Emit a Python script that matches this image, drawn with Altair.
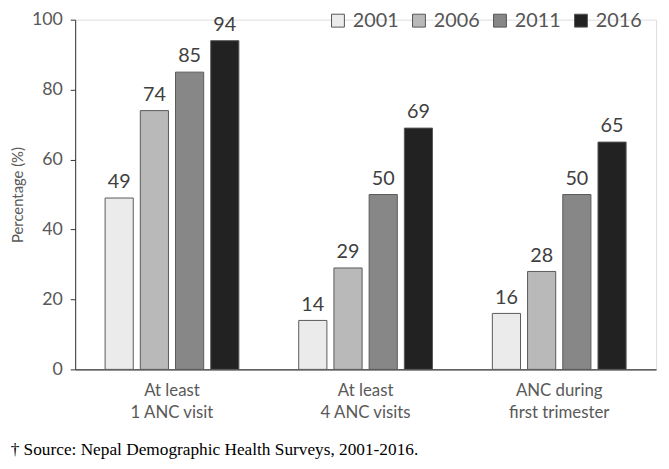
import altair as alt
import pandas as pd

categories = ["At least|1 ANC visit", "At least|4 ANC visits", "ANC during|first trimester"]
years = ["2001", "2006", "2011", "2016"]
values_2001 = [49, 14, 16]
values_2006 = [74, 29, 28]
values_2011 = [85, 50, 50]
values_2016 = [94, 69, 65]
colors = ["#ebebeb", "#b9b9b9", "#878787", "#222222"]
source_note = "\u2020 Source: Nepal Demographic Health Surveys, 2001-2016."

rows = []
for yr, vals in zip(years, [values_2001, values_2006, values_2011, values_2016]):
    for c, v in zip(categories, vals):
        rows.append({"cat": c, "year": yr, "pct": v})
df = pd.DataFrame(rows)

FONT = "Lato"

x = alt.X("cat:N", sort=categories, title=None,
          scale=alt.Scale(paddingInner=0, paddingOuter=0),
          axis=alt.Axis(labelExpr="split(datum.label, '|')", labelAngle=0,
                        labelFontSize=17, labelColor="#595959", labelFont=FONT,
                        labelLineHeight=23, labelPadding=13,
                        ticks=False, domainColor="#333333", domainWidth=1.2))
xo = alt.XOffset("year:N", sort=years,
                 scale=alt.Scale(paddingInner=0.2, paddingOuter=0.85))
y = alt.Y("pct:Q", title="Percentage (%)",
          scale=alt.Scale(domain=[0, 100]),
          axis=alt.Axis(values=[0, 20, 40, 60, 80, 100], grid=False,
                        labelFontSize=18, labelColor="#595959", labelFont=FONT,
                        titleFontSize=15, titleColor="#595959", titleFont=FONT,
                        titleFontWeight="normal", titlePadding=6,
                        tickSize=5, tickColor="#333333", domainColor="#333333",
                        labelPadding=8))
color = alt.Color("year:N", sort=years,
                  scale=alt.Scale(domain=years, range=colors),
                  legend=alt.Legend(title=None, orient="none", direction="horizontal",
                                    legendX=256, legendY=-9,
                                    symbolType="square", symbolSize=170,
                                    symbolStrokeColor="#555555", symbolStrokeWidth=1,
                                    symbolOpacity=1,
                                    labelFontSize=20, labelColor="#555555", labelFont=FONT,
                                    labelOffset=5, columnPadding=10))

bars = alt.Chart(df).mark_bar(stroke="#595959", strokeWidth=1).encode(
    x=x, xOffset=xo, y=y, color=color)
labels = alt.Chart(df).mark_text(baseline="bottom", dy=-6, fontSize=20,
                                 color="#404040", font=FONT).encode(
    x=alt.X("cat:N", sort=categories), xOffset=alt.XOffset("year:N", sort=years),
    y="pct:Q", text="pct:Q")

chart = alt.layer(bars, labels).properties(
    width=588, height=354,
    autosize=alt.AutoSizeParams(type="none"),
    padding={"left": 68, "top": 9, "right": 5, "bottom": 96},
    title=alt.TitleParams(source_note, orient="bottom", anchor="start",
                          dx=0, offset=21, font="Liberation Serif",
                          fontSize=17.5, fontWeight="normal", color="#000000"),
).configure_view(stroke=None).configure(background="white")

chart.save("out.html", embed_options={"renderer": "svg", "actions": False})
